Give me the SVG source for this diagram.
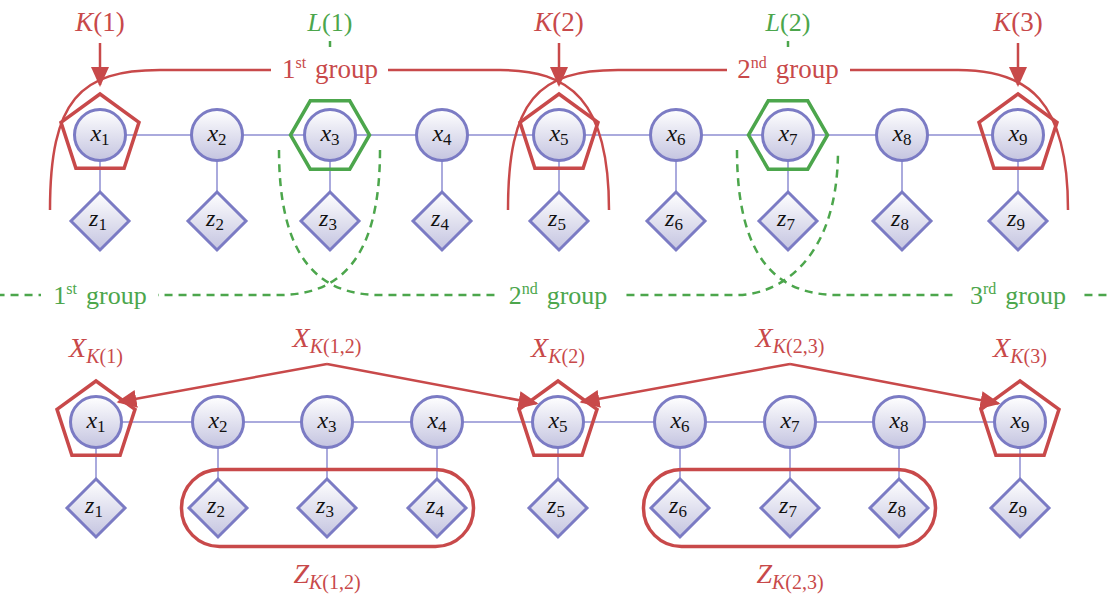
<svg xmlns="http://www.w3.org/2000/svg" width="1109" height="597" viewBox="0 0 1109 597" font-family="'Liberation Serif', 'Times New Roman', 'DejaVu Serif', serif">
<style>
.node{fill:url(#ng);stroke:#7B7BC4;stroke-width:3}
.edge{stroke:#8E8ED2;stroke-width:1.5;fill:none}
.rline{stroke:#C8494A;stroke-width:2.5;fill:none}
.kshape{stroke:#C8494A;stroke-width:3.5;fill:none}
.lshape{stroke:#4CA64C;stroke-width:3.5;fill:none}
.gdash{stroke:#4CA64C;stroke-width:2.5;fill:none;stroke-dasharray:8 6}
.zrect{stroke:#C8494A;stroke-width:3.5;fill:none}
text{font-family:'Liberation Serif','Times New Roman','DejaVu Serif',serif}
.nl{font-size:24px;fill:#111;text-anchor:middle}
.it{font-style:italic}
.sub{font-size:17px}
.rl{fill:#C8494A;font-size:27px;text-anchor:middle}
.ml{fill:#C8494A;font-size:28px;text-anchor:middle}
.gl{fill:#4CA64C;font-size:26px;text-anchor:middle}
.msub{font-size:20px}
.sup{font-size:16px}
.bg{fill:#ffffff}
</style>
<defs>
<linearGradient id="ng" x1="0" y1="0" x2="0" y2="1"><stop offset="0" stop-color="#ffffff"/><stop offset="1" stop-color="#c4c4e0"/></linearGradient>
<marker id="ah" viewBox="0 -10 22 20" markerWidth="22" markerHeight="20" refX="18" refY="0" orient="auto" markerUnits="userSpaceOnUse"><path d="M0,-9 L20,0 L0,9 z" fill="#C8494A"/></marker>
<circle id="circ" r="25.5"/>
<path id="dia" d="M0,-29 L29,0 L0,29 L-29,0 z"/>
<path id="pent" d="M0,-41 L38.99,-12.67 L24.1,33.17 L-24.1,33.17 L-38.99,-12.67 z"/>
<path id="hex" d="M39.5,0 L19.75,34.2 L-19.75,34.2 L-39.5,0 L-19.75,-34.2 L19.75,-34.2 z"/>
</defs>

<g id="connectors">
<path class="edge" d="M100,135 H1018 M100,135 V221 M217,135 V221 M330,135 V221 M442,135 V221 M559,135 V221 M676,135 V221 M788,135 V221 M902,135 V221 M1018,135 V221"/>
<path class="edge" d="M96,422 H1020 M96,422 V508 M218,422 V508 M327,422 V508 M437,422 V508 M558,422 V508 M680,422 V508 M790,422 V508 M899,422 V508 M1020,422 V508"/>
<path class="rline" d="M50,210 C50,100 80,70 160,70 H500 C570,70 609,100 609,210"/>
<path class="rline" d="M508,210 C508,100 538,70 618,70 H958 C1028,70 1068,100 1068,210"/>
<line class="rline" x1="100" y1="43" x2="100" y2="85" marker-end="url(#ah)"/>
<line class="rline" x1="559" y1="43" x2="559" y2="85" marker-end="url(#ah)"/>
<line class="rline" x1="1018" y1="43" x2="1018" y2="85" marker-end="url(#ah)"/>
<line x1="330" y1="41" x2="330" y2="47" stroke="#4CA64C" stroke-width="2.5"/>
<line x1="788" y1="41" x2="788" y2="47" stroke="#4CA64C" stroke-width="2.5"/>
<path class="gdash" d="M380,150 C380,260 339,295 279,295 H0"/>
<path class="gdash" d="M279,150 C279,260 320,295 380,295 H737 C779,295 838,260 838,150"/>
<path class="gdash" d="M737,150 C737,260 778,295 838,295 H1109"/>
<path class="rline" d="M327,364 L118.5,402" marker-end="url(#ah)"/>
<path class="rline" d="M327,364 L536.5,403.5" marker-end="url(#ah)"/>
<path class="rline" d="M790,364 L581.5,402" marker-end="url(#ah)"/>
<path class="rline" d="M790,364 L998.5,403.5" marker-end="url(#ah)"/>
</g>

<g id="tx1"><use href="#pent" x="100" y="135" class="kshape"/><use href="#circ" x="100" y="135" class="node"/><text class="nl" x="100" y="141"><tspan class="it">x</tspan><tspan class="sub" dy="4">1</tspan></text></g>
<g id="tx2"><use href="#circ" x="217" y="135" class="node"/><text class="nl" x="217" y="141"><tspan class="it">x</tspan><tspan class="sub" dy="4">2</tspan></text></g>
<g id="tx3"><use href="#hex" x="330" y="135" class="lshape"/><use href="#circ" x="330" y="135" class="node"/><text class="nl" x="330" y="141"><tspan class="it">x</tspan><tspan class="sub" dy="4">3</tspan></text></g>
<g id="tx4"><use href="#circ" x="442" y="135" class="node"/><text class="nl" x="442" y="141"><tspan class="it">x</tspan><tspan class="sub" dy="4">4</tspan></text></g>
<g id="tx5"><use href="#pent" x="559" y="135" class="kshape"/><use href="#circ" x="559" y="135" class="node"/><text class="nl" x="559" y="141"><tspan class="it">x</tspan><tspan class="sub" dy="4">5</tspan></text></g>
<g id="tx6"><use href="#circ" x="676" y="135" class="node"/><text class="nl" x="676" y="141"><tspan class="it">x</tspan><tspan class="sub" dy="4">6</tspan></text></g>
<g id="tx7"><use href="#hex" x="788" y="135" class="lshape"/><use href="#circ" x="788" y="135" class="node"/><text class="nl" x="788" y="141"><tspan class="it">x</tspan><tspan class="sub" dy="4">7</tspan></text></g>
<g id="tx8"><use href="#circ" x="902" y="135" class="node"/><text class="nl" x="902" y="141"><tspan class="it">x</tspan><tspan class="sub" dy="4">8</tspan></text></g>
<g id="tx9"><use href="#pent" x="1018" y="135" class="kshape"/><use href="#circ" x="1018" y="135" class="node"/><text class="nl" x="1018" y="141"><tspan class="it">x</tspan><tspan class="sub" dy="4">9</tspan></text></g>

<g id="tz1"><use href="#dia" x="100" y="221" class="node"/><text class="nl" x="98" y="226"><tspan class="it">z</tspan><tspan class="sub" dy="4">1</tspan></text></g>
<g id="tz2"><use href="#dia" x="217" y="221" class="node"/><text class="nl" x="215" y="226"><tspan class="it">z</tspan><tspan class="sub" dy="4">2</tspan></text></g>
<g id="tz3"><use href="#dia" x="330" y="221" class="node"/><text class="nl" x="328" y="226"><tspan class="it">z</tspan><tspan class="sub" dy="4">3</tspan></text></g>
<g id="tz4"><use href="#dia" x="442" y="221" class="node"/><text class="nl" x="440" y="226"><tspan class="it">z</tspan><tspan class="sub" dy="4">4</tspan></text></g>
<g id="tz5"><use href="#dia" x="559" y="221" class="node"/><text class="nl" x="557" y="226"><tspan class="it">z</tspan><tspan class="sub" dy="4">5</tspan></text></g>
<g id="tz6"><use href="#dia" x="676" y="221" class="node"/><text class="nl" x="674" y="226"><tspan class="it">z</tspan><tspan class="sub" dy="4">6</tspan></text></g>
<g id="tz7"><use href="#dia" x="788" y="221" class="node"/><text class="nl" x="786" y="226"><tspan class="it">z</tspan><tspan class="sub" dy="4">7</tspan></text></g>
<g id="tz8"><use href="#dia" x="902" y="221" class="node"/><text class="nl" x="900" y="226"><tspan class="it">z</tspan><tspan class="sub" dy="4">8</tspan></text></g>
<g id="tz9"><use href="#dia" x="1018" y="221" class="node"/><text class="nl" x="1016" y="226"><tspan class="it">z</tspan><tspan class="sub" dy="4">9</tspan></text></g>

<g id="top-labels">
<text class="rl" x="100" y="31"><tspan class="it">K</tspan>(1)</text>
<text class="rl" x="559" y="31"><tspan class="it">K</tspan>(2)</text>
<text class="rl" x="1018" y="31"><tspan class="it">K</tspan>(3)</text>
<text class="gl" x="330" y="31"><tspan class="it">L</tspan>(1)</text>
<text class="gl" x="788" y="31"><tspan class="it">L</tspan>(2)</text>
<rect class="bg" x="271" y="52" width="117" height="34"/>
<text class="rl" x="330" y="78">1<tspan class="sup" dy="-10">st</tspan><tspan dy="10" dx="9">group</tspan></text>
<rect class="bg" x="727" y="52" width="123" height="34"/>
<text class="rl" x="788" y="78">2<tspan class="sup" dy="-10">nd</tspan><tspan dy="10" dx="9">group</tspan></text>
<rect class="bg" x="41" y="280" width="117" height="32"/>
<text class="gl" x="100" y="304">1<tspan class="sup" dy="-10">st</tspan><tspan dy="10" dx="9">group</tspan></text>
<rect class="bg" x="498" y="280" width="124" height="32"/>
<text class="gl" x="558" y="304">2<tspan class="sup" dy="-10">nd</tspan><tspan dy="10" dx="9">group</tspan></text>
<rect class="bg" x="958" y="280" width="124" height="32"/>
<text class="gl" x="1018" y="304">3<tspan class="sup" dy="-10">rd</tspan><tspan dy="10" dx="9">group</tspan></text>
</g>

<rect class="zrect" x="181.5" y="469.5" width="292" height="77" rx="38" ry="38"/>
<rect class="zrect" x="643.5" y="469.5" width="292" height="77" rx="38" ry="38"/>

<g id="bx1"><use href="#pent" x="96" y="422" class="kshape"/><use href="#circ" x="96" y="422" class="node"/><text class="nl" x="96" y="428"><tspan class="it">x</tspan><tspan class="sub" dy="4">1</tspan></text></g>
<g id="bx2"><use href="#circ" x="218" y="422" class="node"/><text class="nl" x="218" y="428"><tspan class="it">x</tspan><tspan class="sub" dy="4">2</tspan></text></g>
<g id="bx3"><use href="#circ" x="327" y="422" class="node"/><text class="nl" x="327" y="428"><tspan class="it">x</tspan><tspan class="sub" dy="4">3</tspan></text></g>
<g id="bx4"><use href="#circ" x="437" y="422" class="node"/><text class="nl" x="437" y="428"><tspan class="it">x</tspan><tspan class="sub" dy="4">4</tspan></text></g>
<g id="bx5"><use href="#pent" x="558" y="422" class="kshape"/><use href="#circ" x="558" y="422" class="node"/><text class="nl" x="558" y="428"><tspan class="it">x</tspan><tspan class="sub" dy="4">5</tspan></text></g>
<g id="bx6"><use href="#circ" x="680" y="422" class="node"/><text class="nl" x="680" y="428"><tspan class="it">x</tspan><tspan class="sub" dy="4">6</tspan></text></g>
<g id="bx7"><use href="#circ" x="790" y="422" class="node"/><text class="nl" x="790" y="428"><tspan class="it">x</tspan><tspan class="sub" dy="4">7</tspan></text></g>
<g id="bx8"><use href="#circ" x="899" y="422" class="node"/><text class="nl" x="899" y="428"><tspan class="it">x</tspan><tspan class="sub" dy="4">8</tspan></text></g>
<g id="bx9"><use href="#pent" x="1020" y="422" class="kshape"/><use href="#circ" x="1020" y="422" class="node"/><text class="nl" x="1020" y="428"><tspan class="it">x</tspan><tspan class="sub" dy="4">9</tspan></text></g>

<g id="bz1"><use href="#dia" x="96" y="508" class="node"/><text class="nl" x="94" y="513"><tspan class="it">z</tspan><tspan class="sub" dy="4">1</tspan></text></g>
<g id="bz2"><use href="#dia" x="218" y="508" class="node"/><text class="nl" x="216" y="513"><tspan class="it">z</tspan><tspan class="sub" dy="4">2</tspan></text></g>
<g id="bz3"><use href="#dia" x="327" y="508" class="node"/><text class="nl" x="325" y="513"><tspan class="it">z</tspan><tspan class="sub" dy="4">3</tspan></text></g>
<g id="bz4"><use href="#dia" x="437" y="508" class="node"/><text class="nl" x="435" y="513"><tspan class="it">z</tspan><tspan class="sub" dy="4">4</tspan></text></g>
<g id="bz5"><use href="#dia" x="558" y="508" class="node"/><text class="nl" x="556" y="513"><tspan class="it">z</tspan><tspan class="sub" dy="4">5</tspan></text></g>
<g id="bz6"><use href="#dia" x="680" y="508" class="node"/><text class="nl" x="678" y="513"><tspan class="it">z</tspan><tspan class="sub" dy="4">6</tspan></text></g>
<g id="bz7"><use href="#dia" x="790" y="508" class="node"/><text class="nl" x="788" y="513"><tspan class="it">z</tspan><tspan class="sub" dy="4">7</tspan></text></g>
<g id="bz8"><use href="#dia" x="899" y="508" class="node"/><text class="nl" x="897" y="513"><tspan class="it">z</tspan><tspan class="sub" dy="4">8</tspan></text></g>
<g id="bz9"><use href="#dia" x="1020" y="508" class="node"/><text class="nl" x="1018" y="513"><tspan class="it">z</tspan><tspan class="sub" dy="4">9</tspan></text></g>

<g id="bottom-labels">
<text class="ml" x="96" y="357"><tspan class="it">X</tspan><tspan class="msub" dy="6"><tspan class="it">K</tspan>(1)</tspan></text>
<text class="ml" x="558" y="357"><tspan class="it">X</tspan><tspan class="msub" dy="6"><tspan class="it">K</tspan>(2)</tspan></text>
<text class="ml" x="1020" y="357"><tspan class="it">X</tspan><tspan class="msub" dy="6"><tspan class="it">K</tspan>(3)</tspan></text>
<text class="ml" x="327" y="347"><tspan class="it">X</tspan><tspan class="msub" dy="6"><tspan class="it">K</tspan>(1,2)</tspan></text>
<text class="ml" x="790" y="347"><tspan class="it">X</tspan><tspan class="msub" dy="6"><tspan class="it">K</tspan>(2,3)</tspan></text>
<text class="ml" x="327" y="583"><tspan class="it">Z</tspan><tspan class="msub" dy="6"><tspan class="it">K</tspan>(1,2)</tspan></text>
<text class="ml" x="790" y="583"><tspan class="it">Z</tspan><tspan class="msub" dy="6"><tspan class="it">K</tspan>(2,3)</tspan></text>
</g>
</svg>
